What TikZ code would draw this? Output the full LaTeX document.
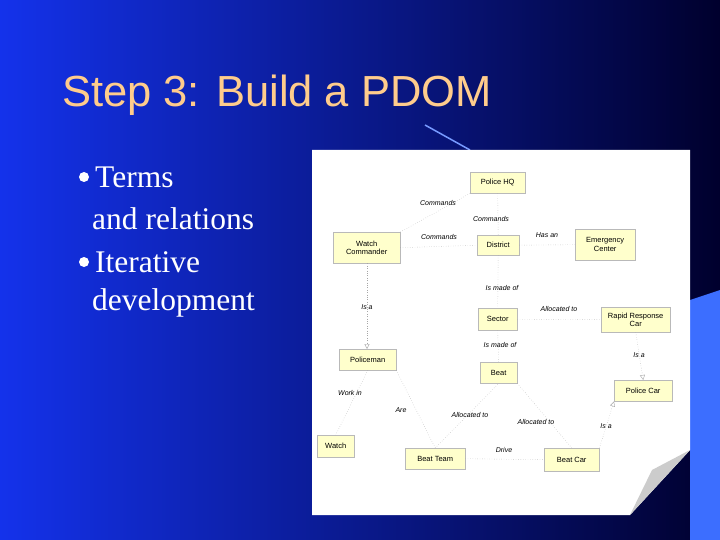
\documentclass[tikz,border=0pt]{standalone}
\usepackage{fontspec}
\setmainfont{Liberation Serif}
\newfontfamily\arialf{Liberation Sans}
\usetikzlibrary{arrows.meta}
\definecolor{bgL}{RGB}{20,50,235}
\definecolor{bgR}{RGB}{0,0,45}
\definecolor{titlec}{RGB}{255,204,140}
\definecolor{boxc}{RGB}{255,255,204}
\definecolor{curl}{RGB}{60,110,255}
\tikzset{
  ent/.style={fill=boxc,draw=gray!55,font=\arialf\fontsize{7.5}{8.5}\selectfont,align=center,inner sep=0pt,anchor=north west},
  rel/.style={draw=gray!70,dotted,thin},
  isa/.style={rel,-{Triangle[open,length=5pt,width=5pt]}},
  lab/.style={font=\arialf\itshape\fontsize{7}{8}\selectfont,inner sep=1pt},
  bul/.style={font=\fontsize{31.5}{33}\selectfont,text=white,anchor=west,inner sep=0pt}
}
\begin{document}
\begin{tikzpicture}[x=1pt,y=-1pt]
\useasboundingbox (0,0) rectangle (720,540);
\shade[left color=bgL,right color=bgR] (0,0) rectangle (720,540);
\node[font=\arialf\fontsize{43.5}{45}\selectfont,text=titlec,anchor=west,inner sep=0pt] (title) at (62,95) {Step 3: Build a PDOM};
% page curl decoration
\fill[curl] (690,300) -- (720,290) -- (720,540) -- (690,540) -- cycle;
\draw[curl!70,line width=1.5pt] (425,125) -- (470,150);
\fill[white] (312,150) -- (690,150) -- (690,450) -- (630,515) -- (312,515) -- cycle;
\fill[gray!40] (690,450) -- (630,515) -- (652,470) -- cycle;
% bullets
\fill[white] (84,177) circle (5);
\fill[white] (84,262) circle (5);
\node[bul] (t1) at (95,177) {Terms};
\node[bul] (t2) at (92,219) {and relations};
\node[bul] (t3) at (95,262) {Iterative};
\node[bul] (t4) at (92,303) {development};
% entities
\node[ent,minimum width=55pt,minimum height=21pt] (hq) at (470,172) {Police HQ};
\node[ent,minimum width=67pt,minimum height=31pt] (wc) at (333,232) {Watch\\Commander};
\node[ent,minimum width=42pt,minimum height=20pt] (dist) at (477,235) {District};
\node[ent,minimum width=60pt,minimum height=31pt] (ec) at (575,229) {Emergency\\Center};
\node[ent,minimum width=39pt,minimum height=22pt] (sec) at (478,308) {Sector};
\node[ent,minimum width=69pt,minimum height=25pt] (rrc) at (601,307) {Rapid Response\\Car};
\node[ent,minimum width=57pt,minimum height=21pt] (pm) at (339,349) {Policeman};
\node[ent,minimum width=37pt,minimum height=21pt] (beat) at (480,362) {Beat};
\node[ent,minimum width=58pt,minimum height=21pt] (pc) at (614,380) {Police Car};
\node[ent,minimum width=37pt,minimum height=22pt] (watch) at (317,435) {Watch};
\node[ent,minimum width=60pt,minimum height=21pt] (bt) at (405,448) {Beat Team};
\node[ent,minimum width=55pt,minimum height=23pt] (bc) at (544,448) {Beat Car};
% relations
\draw[rel] (wc.north east) -- (hq.south west);
\draw[rel] (hq.south) -- (dist.north);
\draw[rel] (wc.east) -- (dist.west);
\draw[rel] (dist.east) -- (ec.west);
\draw[rel] (dist.south) -- (sec.north);
\draw[rel] (sec.east) -- (rrc.west);
\draw[rel] (sec.south) -- (beat.north);
\draw[isa] (rrc.south) -- (pc.north);
\draw[isa] (wc.south west) ++(34,0) coordinate (wcs) (wcs) -- (wcs |- pm.north);
\draw[rel] (pm.south) -- (watch.north);
\draw[rel] (pm.south east) -- (bt.north);
\draw[rel] (bt.north) -- (beat.south);
\draw[rel] (bc.north) -- (beat.south east);
\draw[isa] (bc.north east) -- (pc.south west);
\draw[rel] (bt.east) -- (bc.west);
% labels
\node[lab] (l1) at (438,203) {Commands};
\node[lab] (l2) at (491,219) {Commands};
\node[lab] (l3) at (439,237) {Commands};
\node[lab] (l4) at (547,235) {Has an};
\node[lab] (l5) at (502,288) {Is made of};
\node[lab] (l6) at (367,307) {Is a};
\node[lab] (l7) at (559,309) {Allocated to};
\node[lab] (l8) at (500,345) {Is made of};
\node[lab] (l9) at (639,355) {Is a};
\node[lab] (l10) at (350,393) {Work in};
\node[lab] (l11) at (401,410) {Are};
\node[lab] (l12) at (470,415) {Allocated to};
\node[lab] (l13) at (536,422) {Allocated to};
\node[lab] (l14) at (606,426) {Is a};
\node[lab] (l15) at (504,450) {Drive};
\end{tikzpicture}
\end{document}
